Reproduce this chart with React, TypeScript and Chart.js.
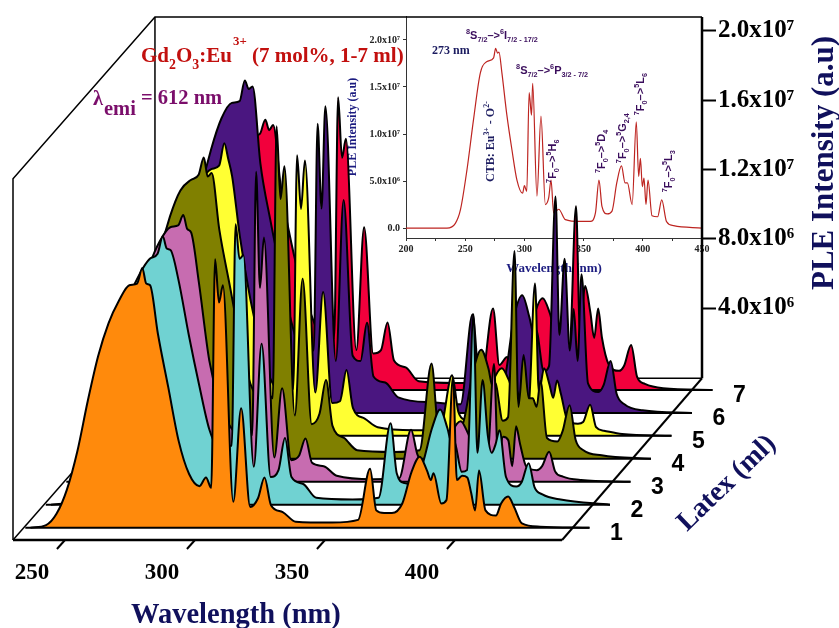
import React, { useEffect, useRef } from "react";
import { Chart, registerables } from "chart.js";

Chart.register(...registerables);

// ---------- data ----------
const WAVELENGTHS = [232,238,242,246,250,254,258,262,266,270,273,275,276.5,278,281,285,289,293,297,299.5,301.5,303,304.5,306,310,313,316.5,319.5,322,324.5,329,334,348,358,362.6,365,368,371,375,378.5,381.7,384.5,386,387,390,392,394.5,396,398,400,401.5,403,404.5,407,411,413,415.7,418,421,428,447];
const LATEX_1 = [0,.15,.8,2.2,4.4,7.3,9.9,11.8,13.1,14,14.1,15,14.1,14,11.2,8.1,5,3.1,2.4,2.9,2.3,15.5,13,14,1.5,6.9,1.2,1.7,2.9,1.3,.9,.35,.3,.45,3.4,1,.85,.85,1.4,3.2,4.1,3.3,2.75,3.15,1.4,1.6,8.7,2.75,3,2.9,2,1,3.3,1,.7,1.4,1.8,1.2,.25,.06,0];
const LATEX_2 = [0,.15,.8,2.3,4.5,7.5,10,12,13.3,14.2,14.5,15.5,14.8,14.7,13,9.8,6.9,4.3,3.2,3.4,3.4,16.2,14.2,14.4,2.2,9.3,1.6,2,3.86,1.6,1.2,.4,.3,.4,4.7,1.8,1.25,1.2,2.4,4.4,5.5,4.4,3.6,3.7,1.9,2,11,3,7.2,4,3,3.5,4.3,1.6,1.05,1.3,2.4,1,.6,.3,0];
const LATEX_3 = [0,.15,.8,2.4,4.6,7.7,10.4,12.5,13.9,14.7,14.8,15.4,14.6,14.4,11.5,7,4.5,3.2,2.7,3,2.7,17.9,11.2,14.1,1.4,5.4,1.25,1.5,2.5,1.1,.9,.35,.15,.2,3,1.6,.9,.8,1.3,2.9,3.5,2.8,2.3,2.4,1.2,1.4,6.8,1.4,2.6,2.4,.9,3.2,2.2,.86,.67,.9,1.73,.6,.3,.1,0];
const LATEX_4 = [0,.2,1,2.6,5,8.5,11.8,14,15.5,16.1,16.4,17.4,16.3,16.5,13.2,10,6.8,4.3,3.5,3.8,3.5,19.2,15,16.9,2.5,10.4,2,2.6,4.55,1.9,1.2,.5,.4,.5,5.5,1.9,1.2,1.1,2.2,5,6.3,5.2,4.2,4.4,2.2,2.4,12,3,6,3.5,3.5,3,4.5,1.2,1,1.6,3.1,1.1,.5,.2,0];
const LATEX_5 = [0,.2,.9,2.6,5,8.2,11,13.3,14.7,15.4,15.6,16.9,16,15,11.5,7.9,5.2,3.2,2.6,3,2.7,16.2,13.1,15.9,2.5,8.3,1.9,2,3.8,1.6,1,.5,.33,.4,3.5,1.4,.9,.8,1.5,3.2,3.9,3.2,2.6,2.8,1.4,1.6,8.8,2.5,3.9,3,2.2,3.2,2.4,.9,.7,.8,1.8,.5,.3,.1,0];
const LATEX_6 = [0,.2,1,3,5.8,9.5,12.8,15.2,17,17.9,18,19.2,18.7,18.85,14.4,11,8,5.2,3.6,4,3.6,16.7,11.8,17.7,3,12.3,3.3,3,5.2,2.1,1.75,.9,.6,.5,5.7,2,1.3,1.2,2,5.5,6.8,5.5,4.6,4.8,2.4,2.7,12.5,4.5,8.9,3.6,6,3,8,1.7,1.2,1.6,3,1.1,.5,.15,0];
const LATEX_7 = [0,.2,.9,2.4,4.8,8,10.8,12.8,14,14.6,14.8,15.6,15,15.3,11.7,8.5,6,4.2,3,3.2,3,16.9,13.4,14.5,2.3,9.4,2.1,2.3,3.9,1.7,1.3,.5,.4,.4,4.7,1.44,1.9,1.2,1.5,4.3,5.3,4.4,3.6,3.8,2,2.2,10.6,3.5,6,4.5,3,4.7,3,1.5,1.1,1.4,2.6,.75,.35,.1,0];
const LAYERS = [LATEX_1, LATEX_2, LATEX_3, LATEX_4, LATEX_5, LATEX_6, LATEX_7];
const LAYER_NAMES = ["1", "2", "3", "4", "5", "6", "7"];
const LAYER_COLORS = ["#FF8A0C", "#70D2D2", "#C76CB0", "#808000", "#FFFF33", "#4A1680", "#F2003C"];
const X_TICKS = [250, 300, 350, 400];
const Y_TICKS = [4, 8, 12, 16, 20];
const Y_TICK_LABELS = ["4.0x10⁶", "8.0x10⁶", "1.2x10⁷", "1.6x10⁷", "2.0x10⁷"];

const INSET_WL = [200,234.6,241.7,246,251.5,257,262.8,268.4,274,275.7,277.4,278.5,281,285,289.5,293.7,298.5,300,302,304,306,307,310.6,314,317.7,320.5,322.5,324.7,329,334.6,347,355.7,360,363,365.5,370,374,378,382,385,387,391,394.5,396.5,398,399.6,401,402.7,404.4,407.8,412.5,416,420,426,450];
const INSET_I = [0,0,.5,1.95,6.2,11.5,16.5,17.7,18.1,19.1,18.6,18.7,16.5,12.2,8.3,5.1,3.7,4.5,3.9,14.4,12,15.4,3.4,11.9,2.5,3.2,5.1,1.6,2,.9,.7,.7,1.6,5.1,2.3,1.5,1.8,4.8,6.6,4.8,4.8,2.5,11.3,5.5,7.4,4.4,5.3,2.5,5.1,1.3,1.2,3,.7,.25,0];
const INSET_X_TICKS = [200, 225, 250, 275, 300, 325, 350, 375, 400, 425, 450];
const INSET_Y_TICKS = [0, 5, 10, 15, 20];
const INSET_Y_LABELS = ["0.0", "5.0x10⁶", "1.0x10⁷", "1.5x10⁷", "2.0x10⁷"];
const INSET_NOTES: [string, number, number, number, string, string][] = [
  ["273 nm", 222, 18.5, 0, "serif", "#1c1c60"],
  ["^{8}S_{7/2}–>^{6}I_{7/2 - 17/2}", 250.7, 20.1, 0, "sans", "#3a0d5c"],
  ["^{8}S_{7/2}–>^{6}P_{3/2 - 7/2}", 293, 16.4, 0, "sans", "#3a0d5c"],
  ["CTB: Eu^{3+} - O^{2-}", 274.3, 4.9, 1, "serif", "#1c1c60"],
  ["^{7}F_{0}–>^{5}H_{6}", 326.7, 4.8, 1, "sans", "#3a0d5c"],
  ["^{7}F_{0}–>^{5}D_{4}", 368, 5.85, 1, "sans", "#3a0d5c"],
  ["^{7}F_{0}–>^{5}G_{2,4}", 385.8, 6.9, 1, "sans", "#3a0d5c"],
  ["^{7}F_{0}–>^{5}L_{6}", 401, 12, 1, "sans", "#3a0d5c"],
  ["^{7}F_{0}–>^{5}L_{3}", 424.6, 3.8, 1, "sans", "#3a0d5c"],
];

// ---------- projection of the waterfall box (nm and 1e6 counts) ----------
const X_MIN = 230, X_MAX = 495, Y_MAX = 30.2;
const FRONT_END = 441.2;
const STEP_NM = 7.885, STEP_I = 1.326;   // shift from one layer to the next
const FIRST_NM = 4.73, FIRST_I = 0.71;    // shift of layer 1 from the front edge
const BACK_NM = 54.6, BACK_I = 9.34;      // shift of the back wall
const WALL = 20.86;
const SERIF = "'Liberation Serif'", SANS = "'Liberation Sans'";
const NAVY = "#10105c";

const layerNm = (k: number) => FIRST_NM + k * STEP_NM;
const layerI = (k: number) => FIRST_I + k * STEP_I;

function richText(ctx: CanvasRenderingContext2D, text: string, x: number, y: number, size: number, family: string, color: string, supRise = 0.42, subDrop = 0.28) {
  ctx.save();
  ctx.translate(x, y);
  ctx.fillStyle = color;
  ctx.textAlign = "left";
  ctx.textBaseline = "alphabetic";
  let cx = 0;
  for (const part of text.split(/(\^\{[^}]*\}|_\{[^}]*\})/)) {
    if (!part) continue;
    const isSup = part.startsWith("^{"), isSub = part.startsWith("_{");
    const t = isSup || isSub ? part.slice(2, -1) : part;
    ctx.font = `bold ${isSup || isSub ? size * 0.66 : size}px ${family}`;
    ctx.fillText(t, cx, isSup ? -size * supRise : isSub ? size * subDrop : 0);
    cx += ctx.measureText(t).width;
  }
  ctx.restore();
}

const mainLabels = {
  id: "mainLabels",
  afterDraw(chart: any) {
    const { ctx, scales } = chart;
    const px = (v: number) => scales.x.getPixelForValue(v);
    const py = (v: number) => scales.y.getPixelForValue(v);
    richText(ctx, "Gd_{2}O_{3}:Eu", 141, 62, 21, SERIF, "#c2100e", 0.85, 0.32);
    richText(ctx, "^{3+}", 233, 62, 19.5, SERIF, "#c2100e", 0.85, 0.32);
    richText(ctx, "(7 mol%, 1-7 ml)", 252, 62, 21, SERIF, "#c2100e");
    ctx.save();
    richText(ctx, "λ", 93, 105, 20.5, SERIF, "#7b0e6b");
    ctx.font = `bold 20.5px ${SERIF}`;
    ctx.fillStyle = "#7b0e6b";
    ctx.fillText("emi", 104, 115);
    ctx.fillText("= 612 nm", 141, 104);
    ctx.restore();
    ctx.save();
    ctx.fillStyle = "#000";
    ctx.textAlign = "center";
    LAYER_NAMES.forEach((name, k) => {
      ctx.font = `bold 23px ${SANS}`;
      ctx.fillText(name, px(447 + layerNm(k)) + 27, py(layerI(k)) + 12);
    });
    ctx.font = `bold 28.5px ${SERIF}`;
    ctx.fillStyle = NAVY;
    ctx.textAlign = "left";
    ctx.fillText("Wavelength (nm)", 131, 623);
    ctx.save();
    ctx.translate(833, 290);
    ctx.rotate(-Math.PI / 2);
    ctx.font = `bold 31px ${SERIF}`;
    ctx.fillText("PLE Intensity (a.u)", 0, 0);
    ctx.restore();
    ctx.save();
    ctx.translate(687, 532);
    ctx.rotate((-44 * Math.PI) / 180);
    ctx.font = `bold 28px ${SERIF}`;
    ctx.fillText("Latex (ml)", 0, 0);
    ctx.restore();
    ctx.restore();
  },
};

const insetLabels = {
  id: "insetLabels",
  afterDraw(chart: any) {
    const { ctx, scales } = chart;
    for (const [text, w, v, rotated, fam, color] of INSET_NOTES) {
      const x = scales.x.getPixelForValue(w), y = scales.y.getPixelForValue(v);
      const family = fam === "serif" ? SERIF : SANS;
      const size = fam === "serif" ? 12 : 11;
      ctx.save();
      ctx.translate(x, y);
      if (rotated) ctx.rotate(-Math.PI / 2);
      richText(ctx, text, 0, 0, size, family, color);
      ctx.restore();
    }
  },
};

function frameLine(points: [number, number][], order: number, width = 1.5) {
  return {
    data: points.map(([x, y]) => ({ x, y })),
    borderColor: "#000",
    borderWidth: width,
    pointRadius: 0,
    fill: false,
    tension: 0,
    clip: false as const,
    order,
  };
}

export default function App() {
  const mainRef = useRef<HTMLCanvasElement>(null);
  const insetRef = useRef<HTMLCanvasElement>(null);

  useEffect(() => {
    const inset = new Chart(insetRef.current!, {
      type: "scatter",
      data: {
        datasets: [{
          data: INSET_WL.map((x, i) => ({ x, y: INSET_I[i] })),
          showLine: true,
          borderColor: "#bd2420",
          borderWidth: 1.2,
          pointRadius: 0,
          cubicInterpolationMode: "monotone",
        }],
      },
      options: {
        responsive: false,
        animation: false,
        events: [],
        layout: { autoPadding: false, padding: { top: 16, right: 18, left: 0, bottom: 0 } },
        plugins: { legend: { display: false }, tooltip: { enabled: false } },
        scales: {
          x: {
            type: "linear", min: 200, max: 450,
            afterBuildTicks: (s: any) => { s.ticks = INSET_X_TICKS.map((value) => ({ value })); },
            afterFit: (s: any) => { s.height = 40; },
            grid: { drawOnChartArea: false, tickLength: 3, color: "#333" },
            border: { color: "#333", width: 1 },
            ticks: {
              autoSkip: false, maxRotation: 0, padding: 2, color: "#222",
              font: { family: SERIF, weight: "bold", size: 10 },
              callback: (v: any) => (Number(v) % 50 === 0 ? String(v) : ""),
            },
            title: { display: true, text: "Wavelength (nm)", color: "#1c1c80", font: { family: SERIF, weight: "bold", size: 13 }, padding: { top: 2, bottom: 2 } },
          },
          y: {
            type: "linear", min: -1.06, max: 22.55,
            afterBuildTicks: (s: any) => { s.ticks = INSET_Y_TICKS.map((value) => ({ value })); },
            afterFit: (s: any) => { s.width = 66; },
            grid: { drawOnChartArea: false, tickLength: 3, color: "#333" },
            border: { color: "#333", width: 1 },
            ticks: {
              autoSkip: false, padding: 3, color: "#222",
              font: { family: SERIF, weight: "bold", size: 10 },
              callback: (v: any) => INSET_Y_LABELS[INSET_Y_TICKS.indexOf(Number(v))] ?? "",
            },
            title: { display: true, text: "PLE Intensity (a.u)", color: "#1c1c80", font: { family: SERIF, weight: "bold", size: 12 }, padding: { top: 6, bottom: 0 } },
          },
        },
      },
      plugins: [insetLabels],
    } as any);

    const layerSets: any[] = [];
    LAYERS.forEach((vals, k) => {
      const dn = layerNm(k), di = layerI(k);
      layerSets.push({
        label: `Latex ${LAYER_NAMES[k]}`,
        data: WAVELENGTHS.map((w, i) => ({ x: w + dn, y: vals[i] + di })),
        borderColor: "#000",
        borderWidth: 2,
        backgroundColor: LAYER_COLORS[k],
        fill: { value: di },
        pointRadius: 0,
        cubicInterpolationMode: "monotone",
        clip: false,
        order: 10 + 2 * k + 1,
      });
      layerSets.push({
        ...frameLine([[X_MIN + dn, di], [447 + dn, di]], 10 + 2 * k, 2),
      });
    });

    const frames = [
      frameLine([[X_MIN, 0], [X_MIN, WALL], [X_MIN + BACK_NM, WALL + BACK_I - 0], [X_MAX, WALL + BACK_I - 0]], 100),
      frameLine([[X_MIN + BACK_NM, WALL + BACK_I], [X_MIN + BACK_NM, BACK_I], [X_MAX, BACK_I]], 100),
      frameLine([[X_MIN, 0], [X_MIN + BACK_NM, BACK_I]], 100),
      frameLine([[FRONT_END, 0], [X_MAX, BACK_I]], 1, 2),
      frameLine([[X_MAX, BACK_I], [X_MAX, WALL + BACK_I]], 1, 2.5),
      frameLine([[X_MIN, 0], [FRONT_END, 0]], 1, 2.5),
      ...X_TICKS.map((v) => frameLine([[v, 0], [v - 3.1, -0.52]], 1, 2)),
    ];

    const main = new Chart(mainRef.current!, {
      type: "scatter",
      data: { datasets: [...layerSets, ...frames].map((d) => ({ showLine: true, ...d })) },
      options: {
        responsive: false,
        animation: false,
        events: [],
        layout: { autoPadding: false, padding: { left: 13, top: 16, right: 0, bottom: 0 } },
        plugins: { legend: { display: false }, tooltip: { enabled: false } },
        scales: {
          x: {
            type: "linear", min: X_MIN, max: X_MAX,
            afterBuildTicks: (s: any) => { s.ticks = X_TICKS.map((value) => ({ value })); },
            afterFit: (s: any) => { s.height = 88; },
            grid: { display: false },
            border: { display: false },
            ticks: {
              autoSkip: false, maxRotation: 0, minRotation: 0, labelOffset: -33, padding: 11, color: "#000",
              font: { family: SERIF, weight: "bold", size: 23 },
              callback: (v: any) => String(v),
            },
          },
          y: { type: "linear", display: false, min: 0, max: Y_MAX },
          y2: {
            type: "linear", position: "right", min: -9.395, max: 20.807,
            afterBuildTicks: (s: any) => { s.ticks = Y_TICKS.map((value) => ({ value })); },
            afterFit: (s: any) => { s.width = 137; },
            grid: { drawOnChartArea: false, drawTicks: true, tickLength: 14, tickWidth: 2, color: "#000" },
            border: { display: false },
            ticks: {
              autoSkip: false, padding: 2, color: "#000",
              font: { family: SERIF, weight: "bold", size: 25 },
              callback: (v: any) => Y_TICK_LABELS[Y_TICKS.indexOf(Number(v))] ?? "",
            },
          },
        },
      },
      plugins: [mainLabels],
    } as any);

    return () => {
      main.destroy();
      inset.destroy();
    };
  }, []);

  return (
    <div style={{ position: "absolute", left: 0, top: 0, width: 839, height: 628, background: "#fff", overflow: "hidden" }}>
      <canvas ref={insetRef} width={380} height={278} style={{ position: "absolute", left: 340, top: 0, width: 380, height: 278 }} />
      <canvas ref={mainRef} width={839} height={628} style={{ position: "absolute", left: 0, top: 0, width: 839, height: 628 }} />
    </div>
  );
}
